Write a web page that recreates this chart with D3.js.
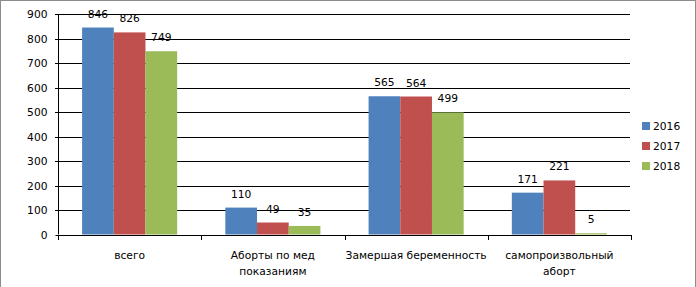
<!DOCTYPE html>
<html><head><meta charset="utf-8">
<script src="https://cdn.jsdelivr.net/npm/d3@7"></script>
<style>
html,body{margin:0;padding:0;background:#fff;}
svg{display:block;}
text{font-family:"DejaVu Sans",Verdana,sans-serif;font-size:10.7px;fill:#000;}
</style></head>
<body>
<svg id="chart" width="696" height="287"></svg>
<script>
const categories = [["всего"], ["Аборты по мед", "показаниям"], ["Замершая беременность"], ["самопроизвольный", "аборт"]];
const years = ["2016", "2017", "2018"];
const values2016 = [846, 110, 565, 171];
const values2017 = [826, 49, 564, 221];
const values2018 = [749, 35, 499, 5];
const yTicks = [0, 100, 200, 300, 400, 500, 600, 700, 800, 900];
const colors = ["#4F81BD", "#C0504D", "#9BBB59"];

(function () {
const series = [values2016, values2017, values2018];
const svg = d3.select("#chart");

// outer border
svg.append("rect").attr("x", 0.5).attr("y", 0.5).attr("width", 695).attr("height", 300)
  .attr("fill", "#fff").attr("stroke", "#8c8c8c").attr("stroke-width", 1);

const pLeft = 58, pRight = 631, pTop = 14.3, pBottom = 234.5;
const catKeys = categories.map((c, i) => i);
const x = d3.scaleBand().domain(catKeys).range([pLeft, pRight]).paddingInner(0).paddingOuter(0);
const x1 = d3.scaleBand().domain(years).range([0, x.bandwidth()]).paddingInner(0).paddingOuter(0.76);
const y = d3.scaleLinear().domain([0, 900]).range([pBottom, pTop]);

// gridlines
svg.append("g").selectAll("line").data(yTicks.filter(t => t > 0)).join("line")
  .attr("x1", pLeft - 3).attr("x2", pRight - 1)
  .attr("y1", d => Math.round(y(d)) + 0.5).attr("y2", d => Math.round(y(d)) + 0.5)
  .attr("stroke", "#000").attr("stroke-width", 1);

// bars
const g = svg.append("g");
series.forEach((vals, si) => {
  g.selectAll(null).data(vals).join("rect")
    .attr("x", (d, i) => x(i) + x1(years[si]))
    .attr("y", d => y(d))
    .attr("width", x1.bandwidth())
    .attr("height", d => y(0) - y(d))
    .attr("fill", colors[si]);
  g.selectAll(null).data(vals).join("text")
    .attr("x", (d, i) => x(i) + x1(years[si]) + x1.bandwidth() / 2)
    .attr("y", d => y(d) - 10)
    .attr("text-anchor", "middle")
    .text(d => d);
});

// y axis
const yAxis = d3.axisLeft(y).tickValues(yTicks).tickSize(3).tickPadding(8);
const ya = svg.append("g").attr("transform", `translate(${pLeft + 0.5},0)`).call(yAxis);
ya.select(".domain").attr("stroke", "#000").attr("d", `M0,${pTop}V${pBottom}`);
ya.selectAll(".tick line").attr("stroke", "#000");
ya.selectAll(".tick text").attr("font-family", "DejaVu Sans").attr("font-size", 10.7).attr("fill", "#000");
ya.selectAll(".tick").attr("transform", d => `translate(0,${Math.round(y(d)) + 0.5})`);

// x axis line and ticks
svg.append("line").attr("x1", pLeft).attr("x2", pRight).attr("y1", Math.round(pBottom) + 0.5).attr("y2", Math.round(pBottom) + 0.5)
  .attr("stroke", "#000");
const bounds = catKeys.map(i => x(i)).concat([pRight]);
svg.append("g").selectAll("line").data(bounds).join("line")
  .attr("x1", d => Math.round(d) + 0.5).attr("x2", d => Math.round(d) + 0.5)
  .attr("y1", Math.round(pBottom)).attr("y2", Math.round(pBottom) + 5)
  .attr("stroke", "#000");

// category labels
categories.forEach((lines, i) => {
  const t = svg.append("text").attr("text-anchor", "middle")
    .attr("x", x(i) + x.bandwidth() / 2).attr("y", 259);
  lines.forEach((ln, li) => {
    t.append("tspan").attr("x", x(i) + x.bandwidth() / 2).attr("dy", li === 0 ? 0 : 16).text(ln);
  });
});

// legend
const lg = svg.append("g").attr("transform", "translate(642,0)");
years.forEach((yr, i) => {
  const cy = 126 + i * 20;
  lg.append("rect").attr("x", 0).attr("y", cy - 4).attr("width", 8).attr("height", 8).attr("fill", colors[i]);
  lg.append("text").attr("x", 11).attr("y", cy).attr("dy", "0.36em").text(yr);
});
})();
</script>
</body></html>
